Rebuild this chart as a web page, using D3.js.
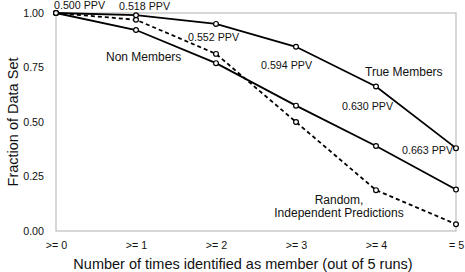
<!DOCTYPE html>
<html>
<head>
<meta charset="utf-8">
<script src="https://cdn.jsdelivr.net/npm/d3@7"></script>
<style>
  body { margin: 0; background: #fff; }
  text { font-family: "Liberation Sans", Arial, sans-serif; fill: #111; }
</style>
</head>
<body>
<div class="canvas"></div>
<script>
// data
const categories = ['>= 0', '>= 1', '>= 2', '>= 3', '>= 4', '= 5']
const trueMembers = [1.00, 0.99, 0.95, 0.845, 0.663, 0.38]
const nonMembers = [1.00, 0.922, 0.77, 0.575, 0.39, 0.19]
const randomPred = [1.00, 0.969, 0.8125, 0.50, 0.1875, 0.03125]
const ppvLabels = ['0.500 PPV', '0.518 PPV', '0.552 PPV', '0.594 PPV', '0.630 PPV', '0.663 PPV']
const yTicks = [0, 0.25, 0.5, 0.75, 1]

const width = 465
const height = 272
const margin = { top: 13, right: 9, bottom: 41, left: 56 }
const innerW = width - margin.left - margin.right
const innerH = height - margin.top - margin.bottom

const svg = d3.select('.canvas')
  .append('svg')
  .attr('width', width)
  .attr('height', height)

const graph = svg.append('g')
  .attr('transform', `translate(${margin.left}, ${margin.top})`)

const x = d3.scalePoint()
  .domain(categories)
  .range([0, innerW])

const y = d3.scaleLinear()
  .domain([0, 1])
  .range([innerH, 0])

// grey frame
graph.append('rect')
  .attr('width', innerW)
  .attr('height', innerH)
  .attr('fill', 'none')
  .attr('stroke', '#bdbdbd')
  .attr('stroke-width', 1.2)

// axes (labels only, frame does the lines)
const yAxis = graph.append('g')
  .call(d3.axisLeft(y).tickValues(yTicks).tickFormat(d3.format('.2f')).tickSize(0).tickPadding(12))
yAxis.select('.domain').remove()
yAxis.selectAll('text').style('font-size', '10.7px').style('font-family', '"Liberation Sans", Arial, sans-serif').attr('fill', '#111')

const xAxis = graph.append('g')
  .attr('transform', `translate(0, ${innerH})`)
  .call(d3.axisBottom(x).tickSize(0).tickPadding(10))
xAxis.select('.domain').remove()
xAxis.selectAll('text').style('font-size', '10.7px').style('font-family', '"Liberation Sans", Arial, sans-serif').attr('fill', '#111')

// axis titles
svg.append('text')
  .attr('x', margin.left + innerW / 2 - 13)
  .attr('y', 269)
  .attr('text-anchor', 'middle')
  .style('font-size', '14.5px')
  .text('Number of times identified as member (out of 5 runs)')

svg.append('text')
  .attr('transform', `translate(18, ${margin.top + innerH / 2}) rotate(-90)`)
  .attr('text-anchor', 'middle')
  .style('font-size', '14.5px')
  .text('Fraction of Data Set')

const line = d3.line()
  .x((d, i) => x(categories[i]))
  .y(d => y(d))

const series = [
  { name: 'random', values: randomPred, dash: '4,3' },
  { name: 'non', values: nonMembers, dash: null },
  { name: 'true', values: trueMembers, dash: null }
]

series.forEach(s => {
  graph.append('path')
    .datum(s.values)
    .attr('fill', 'none')
    .attr('stroke', '#000')
    .attr('stroke-width', 1.8)
    .attr('stroke-dasharray', s.dash)
    .attr('d', line)

  graph.selectAll(`circle.${s.name}`)
    .data(s.values)
    .enter()
    .append('circle')
    .attr('class', s.name)
    .attr('cx', (d, i) => x(categories[i]))
    .attr('cy', d => y(d))
    .attr('r', 2.4)
    .attr('fill', '#fff')
    .attr('stroke', '#000')
    .attr('stroke-width', 1.2)
})

// PPV annotations, placed near each True Members point
const ppvOffsets = [[-2, -4], [-17, -5], [-28, 17], [-35, 22], [-34, 24], [-54, 6]]
graph.selectAll('text.ppv')
  .data(ppvLabels)
  .enter()
  .append('text')
  .attr('class', 'ppv')
  .attr('x', (d, i) => x(categories[i]) + ppvOffsets[i][0])
  .attr('y', (d, i) => y(trueMembers[i]) + ppvOffsets[i][1])
  .style('font-size', '10.7px')
  .text(d => d)

// series names
graph.append('text')
  .attr('x', x(categories[1]) - 30)
  .attr('y', y(nonMembers[1]) + 31)
  .style('font-size', '12px')
  .text('Non Members')

graph.append('text')
  .attr('x', x(categories[4]) - 11)
  .attr('y', y(trueMembers[4]) - 10)
  .style('font-size', '12px')
  .text('True Members')

const randomLabel = graph.append('text')
  .attr('text-anchor', 'middle')
  .style('font-size', '12px')
randomLabel.append('tspan')
  .attr('x', x(categories[3]) + 43)
  .attr('y', y(randomPred[4]) + 14)
  .text('Random,')
randomLabel.append('tspan')
  .attr('x', x(categories[3]) + 43)
  .attr('y', y(randomPred[4]) + 27)
  .text('Independent Predictions')
</script>
</body>
</html>
